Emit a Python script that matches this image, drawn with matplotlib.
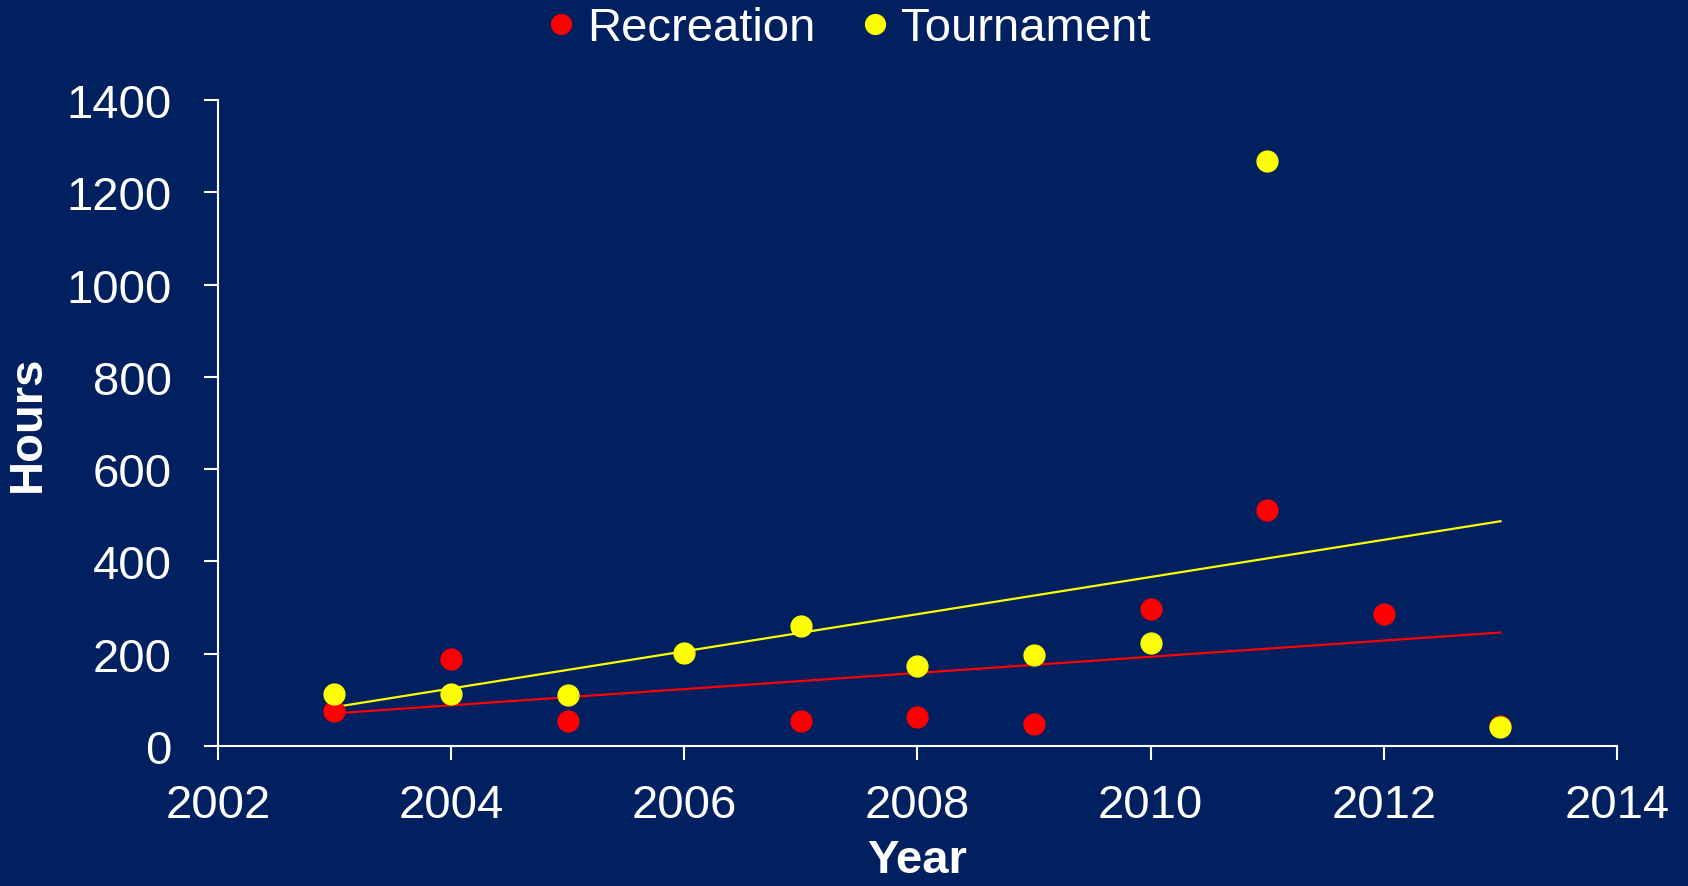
import numpy as np
import matplotlib.pyplot as plt

plt.rcParams['font.family'] = ['Liberation Sans', 'DejaVu Sans']

# data
rec_years = [2003, 2004, 2005, 2007, 2008, 2009, 2010, 2011, 2012, 2013]
rec_hours = [75, 189, 54, 54, 63, 47, 296, 511, 285, 42]
tour_years = [2003, 2004, 2005, 2006, 2007, 2008, 2009, 2010, 2011, 2013]
tour_hours = [112, 112, 110, 201, 259, 173, 196, 224, 1267, 40]

bg = '#002060'
fig = plt.figure(figsize=(16.88, 8.87), dpi=100, facecolor=bg)
ax = fig.add_axes([0.129, 0.158, 0.829, 0.728], facecolor=bg)

# linear trend lines
for yrs, hrs, col in [(rec_years, rec_hours, 'red'), (tour_years, tour_hours, 'yellow')]:
    k, b = np.polyfit(yrs, hrs, 1)
    xs = np.array([min(yrs), max(yrs)])
    ax.plot(xs, k * xs + b, color=col, lw=1.6, zorder=2)

ax.plot(rec_years, rec_hours, 'o', color='red', ms=15, label='Recreation', zorder=3)
ax.plot(tour_years, tour_hours, 'o', color='yellow', ms=15, label='Tournament', zorder=4)

ax.set_xlim(2002, 2014)
ax.set_ylim(0, 1400)
ax.set_xticks(range(2002, 2015, 2))
ax.set_yticks(range(0, 1401, 200))
for s in ['top', 'right']:
    ax.spines[s].set_visible(False)
for s in ['left', 'bottom']:
    ax.spines[s].set_color('white')
    ax.spines[s].set_linewidth(1.5)
ax.tick_params(colors='white', labelsize=34, length=10, width=1.5)
ax.tick_params(axis='y', pad=23)
ax.tick_params(axis='x', pad=17)

ax.set_xlabel('Year', color='white', fontsize=34, fontweight='bold', labelpad=8)
ax.set_ylabel('Hours', color='white', fontsize=34, fontweight='bold', labelpad=12)

leg = fig.legend(loc='center', bbox_to_anchor=(0.5, 0.967), ncol=2, frameon=False,
                 fontsize=34, handletextpad=0.05, handlelength=1.0, columnspacing=0.75,
                 markerscale=0.95)
for t in leg.get_texts():
    t.set_color('white')

fig.savefig('out.png', dpi=100, facecolor=bg)
